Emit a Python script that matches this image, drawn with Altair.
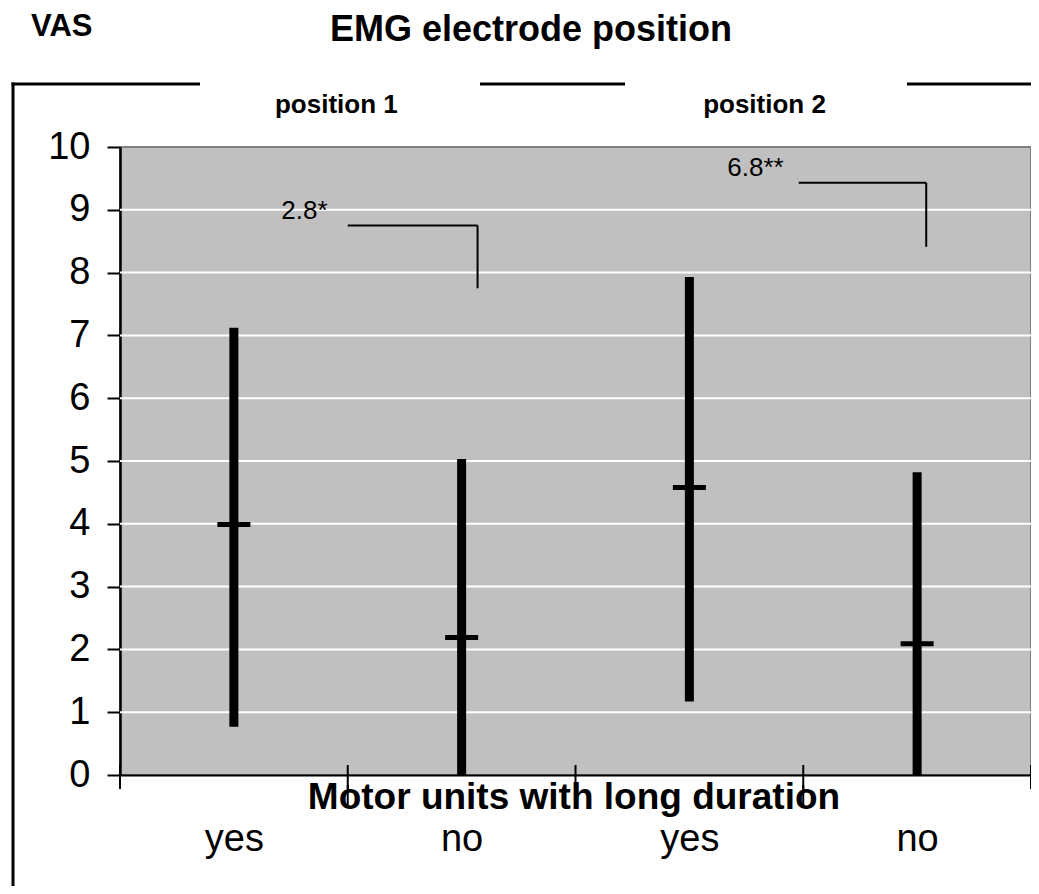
import altair as alt
import pandas as pd

FONT = "Liberation Sans"

# ---- data ----
categories = ["yes", "no", "yes", "no"]
positions = [0.5, 1.5, 2.5, 3.5]
low = [0.77, 0.0, 1.17, 0.0]
high = [7.12, 5.03, 7.93, 4.82]
mean = [3.99, 2.19, 4.58, 2.09]

groups = ["position 1", "position 2"]
group_x = [0.95, 2.83]

sig_labels = ["2.8*", "6.8**"]
sig_label_x = [0.81, 2.79]
sig_label_y = [8.85, 9.54]
bracket_from = [1.0, 2.98]
bracket_to = [1.57, 3.54]
bracket_top = [8.75, 9.43]
bracket_bottom = [7.75, 8.41]

y_ticks = list(range(0, 11))
grid_values = list(range(1, 10))
boundaries = [0, 1, 2, 3, 4]

chart_title = "EMG electrode position"
y_title = "VAS"
x_title = "Motor units with long duration"

# ---- tables ----
bars = pd.DataFrame({"cat": categories, "pos": positions, "low": low,
                     "high": high, "mean": mean})
grp = pd.DataFrame({"g": groups, "gx": group_x})
sig = pd.DataFrame({"t": sig_labels, "tx": sig_label_x, "ty": sig_label_y,
                    "b1": bracket_from, "b2": bracket_to,
                    "bt": bracket_top, "bb": bracket_bottom})
grid = pd.DataFrame({"gv": grid_values})
bnd = pd.DataFrame({"b": boundaries})
one = pd.DataFrame({"k": [0]})

W, H = 911, 628
xs = alt.Scale(domain=[0, 4], nice=False, zero=False)
ys = alt.Scale(domain=[0, 10], nice=False, zero=True)

label_expr = "[" + ",".join("'%s'" % c for c in categories) + "][floor(datum.value)]"
xaxis = alt.Axis(values=positions, labelExpr=label_expr, title=None, ticks=False,
                 tickSize=0, domainColor="black", domainWidth=2, labelFontSize=38,
                 labelFont=FONT, labelColor="black", labelBaseline="alphabetic",
                 labelPadding=75, grid=False)
yaxis = alt.Axis(values=y_ticks, title=None, tickSize=13, tickWidth=2,
                 tickColor="black", domainColor="black", domainWidth=2.5,
                 labelFontSize=38, labelFont=FONT, labelColor="black",
                 labelPadding=17, grid=False)

grid_layer = alt.Chart(grid).mark_rule(color="white", strokeWidth=2).encode(
    y=alt.Y("gv:Q", scale=ys, axis=yaxis))

err_layer = alt.Chart(bars).mark_rule(color="black", strokeWidth=9).encode(
    x=alt.X("pos:Q", scale=xs, axis=xaxis),
    y=alt.Y("low:Q", scale=ys, axis=yaxis),
    y2="high:Q")

mean_layer = alt.Chart(bars).mark_tick(orient="horizontal", size=33, thickness=5,
                                       color="black", opacity=1).encode(
    x=alt.X("pos:Q", scale=xs, axis=xaxis),
    y=alt.Y("mean:Q", scale=ys, axis=yaxis))

br_h = alt.Chart(sig).mark_rule(color="black", strokeWidth=2).encode(
    x=alt.X("b1:Q", scale=xs, axis=xaxis), x2="b2:Q",
    y=alt.Y("bt:Q", scale=ys, axis=yaxis))
br_v = alt.Chart(sig).mark_rule(color="black", strokeWidth=2).encode(
    x=alt.X("b2:Q", scale=xs, axis=xaxis),
    y=alt.Y("bt:Q", scale=ys, axis=yaxis), y2="bb:Q")
sig_text = alt.Chart(sig).mark_text(font=FONT, fontSize=26, color="black",
                                    align="center", baseline="alphabetic").encode(
    x=alt.X("tx:Q", scale=xs, axis=xaxis),
    y=alt.Y("ty:Q", scale=ys, axis=yaxis), text="t:N")

# axis boundary ticks (crossing the x axis line)
bnd_layer = alt.Chart(bnd).mark_rule(color="black", strokeWidth=2).encode(
    x=alt.X("b:Q", scale=xs, axis=xaxis),
    y=alt.value(H - 10), y2=alt.value(H + 14))
bnd_inner = alt.Chart(bnd[(bnd.b > 0) & (bnd.b < 4)]).mark_rule(
    color="black", strokeWidth=2).encode(
    x=alt.X("b:Q", scale=xs, axis=xaxis),
    y=alt.value(H + 10), y2=alt.value(H + 30))

# texts
title_layer = alt.Chart(pd.DataFrame({"t": [chart_title]})).mark_text(
    font=FONT, fontSize=36, fontWeight="bold", color="black", align="center",
    baseline="alphabetic").encode(x=alt.value(411), y=alt.value(-106), text="t:N")
vas_layer = alt.Chart(pd.DataFrame({"t": [y_title]})).mark_text(
    font=FONT, fontSize=31, fontWeight="bold", color="black", align="left",
    baseline="alphabetic").encode(x=alt.value(-89), y=alt.value(-111), text="t:N")
xt_layer = alt.Chart(pd.DataFrame({"t": [x_title]})).mark_text(
    font=FONT, fontSize=37, fontWeight="bold", color="black", align="center",
    baseline="alphabetic").encode(x=alt.value(454), y=alt.value(662), text="t:N")
grp_layer = alt.Chart(grp).mark_text(
    font=FONT, fontSize=26, fontWeight="bold", color="black", align="center",
    baseline="alphabetic").encode(x=alt.X("gx:Q", scale=xs, axis=xaxis),
                                  y=alt.value(-34), text="g:N")

# frame lines
def hseg(x1, x2):
    return alt.Chart(one).mark_rule(color="black", strokeWidth=3).encode(
        x=alt.value(x1), x2=alt.value(x2), y=alt.value(-63))

frame_left = alt.Chart(one).mark_rule(color="black", strokeWidth=3).encode(
    x=alt.value(-107), y=alt.value(-64.5), y2=alt.value(760))

chart = alt.layer(
    grid_layer, err_layer, mean_layer, br_h, br_v, sig_text,
    bnd_layer, bnd_inner, title_layer, vas_layer, xt_layer, grp_layer,
    hseg(-108.5, 80), hseg(360, 505), hseg(787, 925), frame_left,
).properties(
    width=W, height=H,
    padding={"left": 112, "top": 139, "right": 0, "bottom": 111},
    autosize="none",
).configure(
    background="white", font=FONT
).configure_view(
    fill="#c0c0c0", stroke="#808080", strokeWidth=2
)

chart.save("out.html", embed_options={"renderer": "svg", "actions": False})
